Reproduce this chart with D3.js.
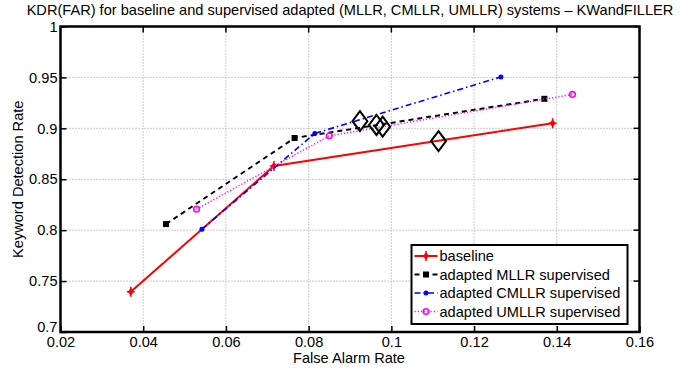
<!DOCTYPE html>
<html>
<head>
<meta charset="utf-8">
<script src="https://cdn.jsdelivr.net/npm/d3@7"></script>
<style>
  body { margin: 0; background: #fff; }
  svg { font-family: "Liberation Sans", Arial, sans-serif; }
</style>
</head>
<body>
<svg id="plot" width="686" height="369"></svg>
<script>
// data
const xTicks = [0.02, 0.04, 0.06, 0.08, 0.1, 0.12, 0.14, 0.16]
const yTicks = [0.7, 0.75, 0.8, 0.85, 0.9, 0.95, 1]

const baseline = [[0.037, 0.7395], [0.0716, 0.863], [0.139, 0.905]]
const mllr = [[0.0455, 0.806], [0.0766, 0.8905], [0.137, 0.929]]
const cmllr = [[0.0542, 0.801], [0.0815, 0.895], [0.1265, 0.9505]]
const umllr = [[0.0529, 0.8206], [0.085, 0.8927], [0.1438, 0.9333]]
// operating points drawn as big open diamonds
const opPoints = [[0.0924, 0.907], [0.0964, 0.9033], [0.0979, 0.9016], [0.1114, 0.8875]]

const seriesNames = ['baseline', 'adapted MLLR supervised', 'adapted CMLLR supervised', 'adapted UMLLR supervised']

const plot = d3.select('#plot')
const fs = '14.6px'

const pLeft = 60.5, pRight = 639.5, pTop = 26.5, pBottom = 332

const xScale = d3.scaleLinear().domain([0.02, 0.16]).range([pLeft, pRight])
const yScale = d3.scaleLinear().domain([0.7, 1]).range([pBottom, pTop])

// title
plot.append('text')
    .attr('x', 350).attr('y', 15)
    .attr('text-anchor', 'middle')
    .style('font-size', fs)
    .text('KDR(FAR) for baseline and supervised adapted (MLLR, CMLLR, UMLLR) systems \u2013 KWandFILLER')

// grid
const grid = plot.append('g')
grid.selectAll('.vgrid')
    .data(xTicks.slice(1, -1))
    .join('line')
    .attr('x1', d => xScale(d)).attr('x2', d => xScale(d))
    .attr('y1', pTop).attr('y2', pBottom)
    .attr('stroke', '#999').attr('stroke-width', 1)
    .attr('stroke-dasharray', '1,2')
grid.selectAll('.hgrid')
    .data(yTicks.slice(1, -1))
    .join('line')
    .attr('y1', d => yScale(d)).attr('y2', d => yScale(d))
    .attr('x1', pLeft).attr('x2', pRight)
    .attr('stroke', '#999').attr('stroke-width', 1)
    .attr('stroke-dasharray', '1,2')

// axes
const xAxis = d3.axisBottom(xScale)
    .tickValues(xTicks)
    .tickFormat(d3.format('~g'))
    .tickSizeInner(-6)
    .tickSizeOuter(0)
    .tickPadding(5)

const yAxis = d3.axisLeft(yScale)
    .tickValues(yTicks)
    .tickFormat(d3.format('~g'))
    .tickSizeInner(-6)
    .tickSizeOuter(0)
    .tickPadding(3)

const gx = plot.append('g')
    .attr('transform', `translate(0, ${pBottom})`)
    .call(xAxis)
gx.select('.domain').remove()
gx.selectAll('line').attr('stroke', '#000').attr('stroke-width', 1.5)
gx.selectAll('text').style('font-size', fs).attr('fill', '#000')

const gy = plot.append('g')
    .attr('transform', `translate(${pLeft}, 0)`)
    .call(yAxis)
gy.select('.domain').remove()
gy.selectAll('line').attr('stroke', '#000').attr('stroke-width', 1.5)
gy.selectAll('text').style('font-size', fs).attr('fill', '#000')
gy.selectAll('.tick').filter(d => d === 0.7).select('text').attr('dy', '-0.05em')

// top ticks and right ticks
plot.append('g').selectAll('line')
    .data(xTicks)
    .join('line')
    .attr('x1', d => xScale(d)).attr('x2', d => xScale(d))
    .attr('y1', pTop).attr('y2', pTop + 6)
    .attr('stroke', '#000').attr('stroke-width', 1.5)
plot.append('g').selectAll('line')
    .data(yTicks)
    .join('line')
    .attr('y1', d => yScale(d)).attr('y2', d => yScale(d))
    .attr('x1', pRight).attr('x2', pRight - 6)
    .attr('stroke', '#000').attr('stroke-width', 1.5)

// axis labels
plot.append('text')
    .attr('x', 349).attr('y', 363)
    .attr('text-anchor', 'middle')
    .style('font-size', fs)
    .text('False Alarm Rate')
plot.append('text')
    .attr('transform', `translate(23, ${(pTop + pBottom) / 2}) rotate(-90)`)
    .attr('text-anchor', 'middle')
    .style('font-size', fs)
    .text('Keyword Detection Rate')

const line = d3.line()
    .x(d => xScale(d[0]))
    .y(d => yScale(d[1]))

const styles = [
  { data: baseline, color: '#ff0000', width: 2, dash: null, marker: 'plusdiamond' },
  { data: mllr, color: '#000000', width: 2, dash: '5,4', marker: 'square' },
  { data: cmllr, color: '#0000ff', width: 1.6, dash: '6,3,1.5,3', marker: 'dot' },
  { data: umllr, color: '#ff00ff', width: 1.4, dash: '1.2,2', marker: 'circle' }
]

function drawMarker(g, type, color, x, y) {
  if (type === 'plusdiamond') {
    g.append('path')
      .attr('d', `M${x},${y - 4}L${x + 3},${y}L${x},${y + 4}L${x - 3},${y}Z`)
      .attr('fill', color)
    g.append('path')
      .attr('d', `M${x - 4},${y}H${x + 4}M${x},${y - 5}V${y + 5}`)
      .attr('stroke', color).attr('stroke-width', 1.5)
  } else if (type === 'square') {
    g.append('rect')
      .attr('x', x - 3).attr('y', y - 3).attr('width', 6).attr('height', 6)
      .attr('fill', color)
  } else if (type === 'dot') {
    g.append('circle').attr('cx', x).attr('cy', y).attr('r', 2.5).attr('fill', color)
  } else if (type === 'circle') {
    g.append('circle').attr('cx', x).attr('cy', y).attr('r', 2.8)
      .attr('fill', 'none').attr('stroke', color).attr('stroke-width', 1.6)
  }
}

const series = plot.append('g')
styles.forEach(s => {
  series.append('path')
    .attr('d', line(s.data))
    .attr('fill', 'none')
    .attr('stroke', s.color)
    .attr('stroke-width', s.width)
    .attr('stroke-dasharray', s.dash)
  const mg = series.append('g')
  s.data.forEach(d => drawMarker(mg, s.marker, s.color, xScale(d[0]), yScale(d[1])))
})

// big open diamonds
plot.append('g').selectAll('path')
    .data(opPoints)
    .join('path')
    .attr('d', d => {
      const x = xScale(d[0]), y = yScale(d[1])
      return `M${x},${y - 10}L${x + 7.5},${y}L${x},${y + 10}L${x - 7.5},${y}Z`
    })
    .attr('fill', 'none')
    .attr('stroke', '#000')
    .attr('stroke-width', 2)

// legend
const lx = 411.5, ly = 245, lw = 216, lh = 79
const legend = plot.append('g')
legend.append('rect')
    .attr('x', lx).attr('y', ly).attr('width', lw).attr('height', lh)
    .attr('fill', '#fff').attr('stroke', '#000').attr('stroke-width', 2)
styles.forEach((s, i) => {
  const y = ly + 11 + i * 18.5
  legend.append('line')
    .attr('x1', lx + 3).attr('x2', lx + 26)
    .attr('y1', y).attr('y2', y)
    .attr('stroke', s.color).attr('stroke-width', s.width)
    .attr('stroke-dasharray', s.dash)
  drawMarker(legend, s.marker, s.color, lx + 14.5, y)
  legend.append('text')
    .attr('x', lx + 28).attr('y', y + 5)
    .style('font-size', fs)
    .text(seriesNames[i])
})

// frame
plot.append('rect')
    .attr('x', pLeft).attr('y', pTop)
    .attr('width', pRight - pLeft).attr('height', pBottom - pTop)
    .attr('fill', 'none').attr('stroke', '#000').attr('stroke-width', 2.5)
</script>
</body>
</html>
